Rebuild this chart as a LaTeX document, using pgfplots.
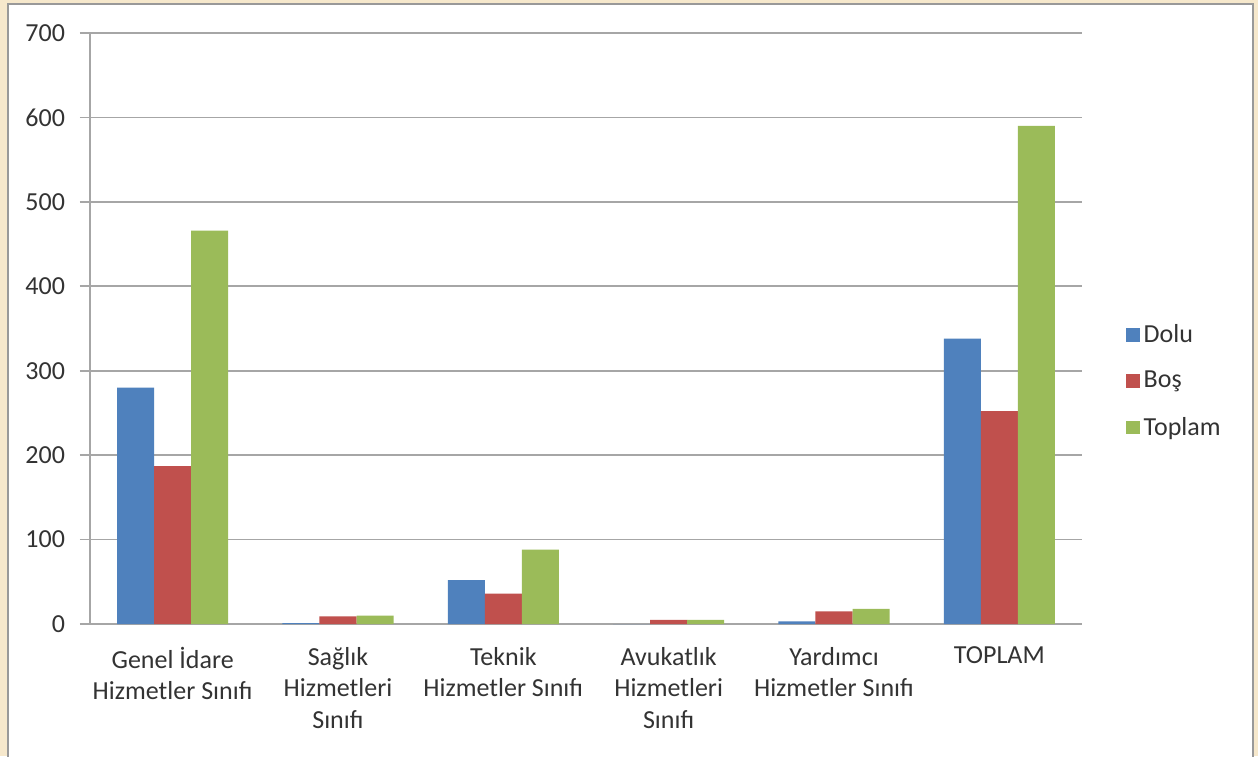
\documentclass[border=0pt]{standalone}
\usepackage{pgfplots}
\pgfplotsset{compat=1.18}
\usepackage{fontspec}
\setmainfont{Carlito}
\definecolor{cDolu}{HTML}{4F81BD}
\definecolor{cBos}{HTML}{C0504D}
\definecolor{cTop}{HTML}{9BBB59}
\definecolor{gridc}{HTML}{A6A6A6}
\definecolor{txt}{HTML}{333333}
\definecolor{bg}{HTML}{F6E8CC}
\newcommand{\lblfont}{\fontsize{13}{15.8}\selectfont}
\begin{document}
\begin{tikzpicture}
% background frame (1px = 0.5pt, axis origin at pixel (90,624))
\useasboundingbox (-45pt,-66pt) rectangle (584pt,312pt);
\fill[bg] (-45pt,-66pt) rectangle (584pt,312pt);
\filldraw[fill=white, draw=gray!80, line width=1.2pt] (-41pt,-70pt) rectangle (581.5pt,310pt);
\begin{axis}[
  at={(0,0)}, anchor=south west,
  scale only axis,
  width=496pt, height=295.5pt,
  ybar=0pt, bar width=0.224,
  xmin=-0.5, xmax=5.5,
  ymin=0, ymax=700,
  ytick={0,100,...,700},
  xtick={0,1,2,3,4,5},
  xticklabels={{Genel İdare\\Hizmetler Sınıfı},{Sağlık\\Hizmetleri\\Sınıfı},{Teknik\\Hizmetler Sınıfı},{Avukatlık\\Hizmetleri\\Sınıfı},{Yardımcı\\Hizmetler Sınıfı},{TOPLAM}},
  xticklabel style={align=center, font=\lblfont, text=txt, yshift=-3pt},
  yticklabel style={font=\lblfont, text=txt, xshift=-4pt},
  /pgf/number format/assume math mode=true,
  major x tick style={draw=none},
  extra x ticks={-0.5,0.5,1.5,2.5,3.5,4.5,5.5},
  extra x tick labels={},
  extra x tick style={major tick length=4pt, tick align=outside, major tick style={draw=gridc, line width=0.8pt}},
  axis x line*=bottom, axis y line*=left,
  axis line style={draw=gridc, line width=0.8pt, -},
  ytick style={draw=gridc, line width=0.8pt},
  major tick length=5pt, tick align=outside,
  ymajorgrids=true,
  grid style={draw=gridc, line width=0.8pt},
  legend style={at={(1.038,0.411)}, anchor=west, draw=none, fill=none,
    font=\lblfont, text=txt, row sep=9pt},
  legend cell align=left,
  legend image code/.code={\fill[#1] (0pt,-3.4pt) rectangle (6.8pt,3.4pt);},
]
\addplot[fill=cDolu, draw=none] coordinates {(0,280) (1,1) (2,52) (3,0) (4,3) (5,338)};
\addplot[fill=cBos, draw=none] coordinates {(0,187) (1,9) (2,36) (3,5) (4,15) (5,252)};
\addplot[fill=cTop, draw=none] coordinates {(0,466) (1,10) (2,88) (3,5) (4,18) (5,590)};
\legend{Dolu, Boş, Toplam}
\end{axis}
\end{tikzpicture}
\end{document}
